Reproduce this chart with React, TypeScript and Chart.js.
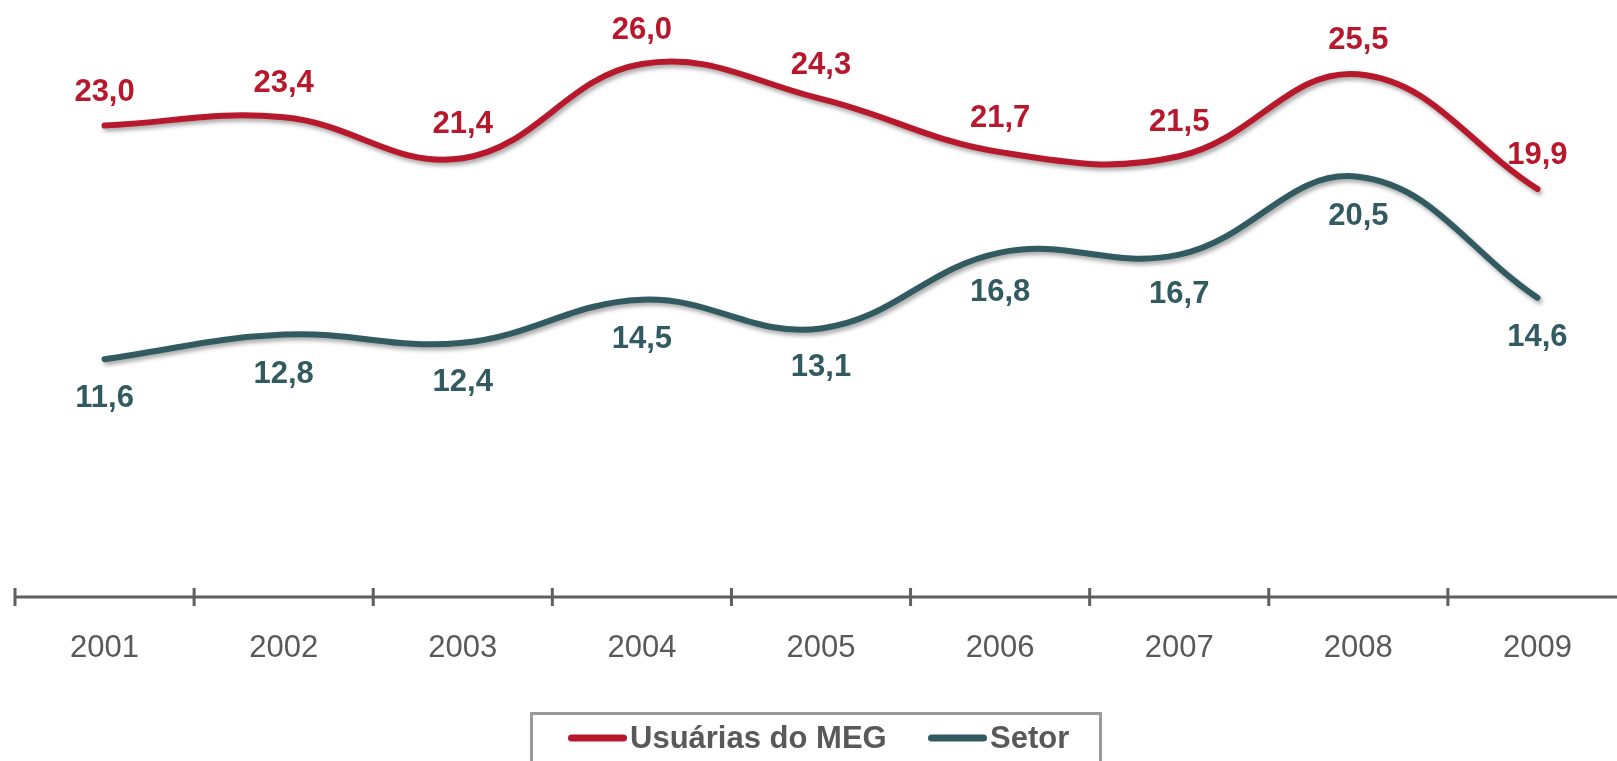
import React, { useEffect, useRef } from "react";
import { Chart, registerables } from "chart.js";

Chart.register(...registerables);

const years = ["2001", "2002", "2003", "2004", "2005", "2006", "2007", "2008", "2009"];
const megValues = [23.0, 23.4, 21.4, 26.0, 24.3, 21.7, 21.5, 25.5, 19.9];
const setorValues = [11.6, 12.8, 12.4, 14.5, 13.1, 16.8, 16.7, 20.5, 14.6];
const seriesNames = ["Usuárias do MEG", "Setor"];
const seriesColors = ["#B8182B", "#325B61"];

const FONT = "'Liberation Sans', Arial, sans-serif";
const GRAY = "#595959";

const fmt = (v: number) => v.toFixed(1).replace(".", ",");

const shadowPlugin = {
  id: "lineShadow",
  beforeDatasetDraw(chart: any) {
    const ctx = chart.ctx;
    ctx.save();
    ctx.shadowColor = "rgba(0,0,0,0.35)";
    ctx.shadowBlur = 4;
    ctx.shadowOffsetX = 2;
    ctx.shadowOffsetY = 3;
  },
  afterDatasetDraw(chart: any) {
    chart.ctx.restore();
  },
};

const axisPlugin = {
  id: "customAxis",
  beforeDatasetsDraw(chart: any) {
    const ctx = chart.ctx;
    const xs = chart.scales.x;
    const y = chart.chartArea.bottom;
    const half = (xs.getPixelForValue(1) - xs.getPixelForValue(0)) / 2;
    ctx.save();
    ctx.strokeStyle = "#5F5F5F";
    ctx.lineWidth = 3;
    ctx.beginPath();
    ctx.moveTo(chart.chartArea.left, y);
    ctx.lineTo(chart.chartArea.right, y);
    ctx.stroke();
    for (let i = 0; i <= years.length; i++) {
      const x = xs.getPixelForValue(0) - half + i * 2 * half;
      ctx.beginPath();
      ctx.moveTo(x, y - 9);
      ctx.lineTo(x, y + 9);
      ctx.stroke();
    }
    ctx.restore();
  },
};

const labelPlugin = {
  id: "valueLabels",
  afterDatasetsDraw(chart: any) {
    const ctx = chart.ctx;
    ctx.save();
    ctx.font = `bold 31px ${FONT}`;
    ctx.textAlign = "center";
    ctx.textBaseline = "alphabetic";
    chart.data.datasets.forEach((ds: any, di: number) => {
      const meta = chart.getDatasetMeta(di);
      ctx.fillStyle = seriesColors[di];
      meta.data.forEach((pt: any, i: number) => {
        const v = ds.data[i];
        const yy = di === 0 ? pt.y - 25 : pt.y + 48;
        ctx.fillText(fmt(v), pt.x, yy);
      });
    });
    ctx.restore();
  },
};

const legendPlugin = {
  id: "boxLegend",
  afterDraw(chart: any) {
    const ctx = chart.ctx;
    ctx.save();
    ctx.strokeStyle = "#9A9A9A";
    ctx.lineWidth = 3;
    ctx.strokeRect(531.5, 713.5, 569, 80);
    const items = [
      { x1: 571.5, x2: 623.5, tx: 630 },
      { x1: 931.5, x2: 983.5, tx: 990 },
    ];
    items.forEach((it, i) => {
      ctx.strokeStyle = seriesColors[i];
      ctx.lineWidth = 7;
      ctx.lineCap = "round";
      ctx.beginPath();
      ctx.moveTo(it.x1, 738);
      ctx.lineTo(it.x2, 738);
      ctx.stroke();
      ctx.fillStyle = GRAY;
      ctx.font = `bold 31px ${FONT}`;
      ctx.textAlign = "left";
      ctx.textBaseline = "alphabetic";
      ctx.fillText(seriesNames[i], it.tx, 748);
    });
    ctx.restore();
  },
};

export default function App() {
  const ref = useRef<HTMLCanvasElement>(null);
  useEffect(() => {
    if (!ref.current) return;
    const chart = new Chart(ref.current, {
      type: "line",
      data: {
        labels: years,
        datasets: [
          {
            label: seriesNames[0],
            data: megValues,
            borderColor: seriesColors[0],
            borderWidth: 6,
            borderCapStyle: "round",
            tension: 0.4,
            pointRadius: 0,
            fill: false,
          },
          {
            label: seriesNames[1],
            data: setorValues,
            borderColor: seriesColors[1],
            borderWidth: 6,
            borderCapStyle: "round",
            tension: 0.4,
            pointRadius: 0,
            fill: false,
          },
        ],
      },
      options: {
        responsive: false,
        animation: false,
        layout: { padding: { left: 15, right: 13, top: 23, bottom: 99 } },
        plugins: { legend: { display: false }, tooltip: { enabled: false } },
        scales: {
          x: {
            offset: true,
            grid: { display: false, offset: true },
            border: { display: false },
            ticks: {
              color: GRAY,
              font: { family: FONT, size: 31, lineHeight: 1.2 },
              padding: 25,
              maxRotation: 0,
              autoSkip: false,
            },
            afterFit: (s: any) => {
              s.height = 65;
            },
          },
          y: { display: false, min: 0, max: 28 },
        },
      },
      plugins: [axisPlugin, shadowPlugin, labelPlugin, legendPlugin],
    });
    return () => chart.destroy();
  }, []);
  return (
    <div style={{ position: "fixed", left: 0, top: 0, width: 1640, height: 761, background: "#fff" }}>
      <canvas ref={ref} width={1640} height={761} style={{ width: 1640, height: 761, display: "block" }} />
    </div>
  );
}
